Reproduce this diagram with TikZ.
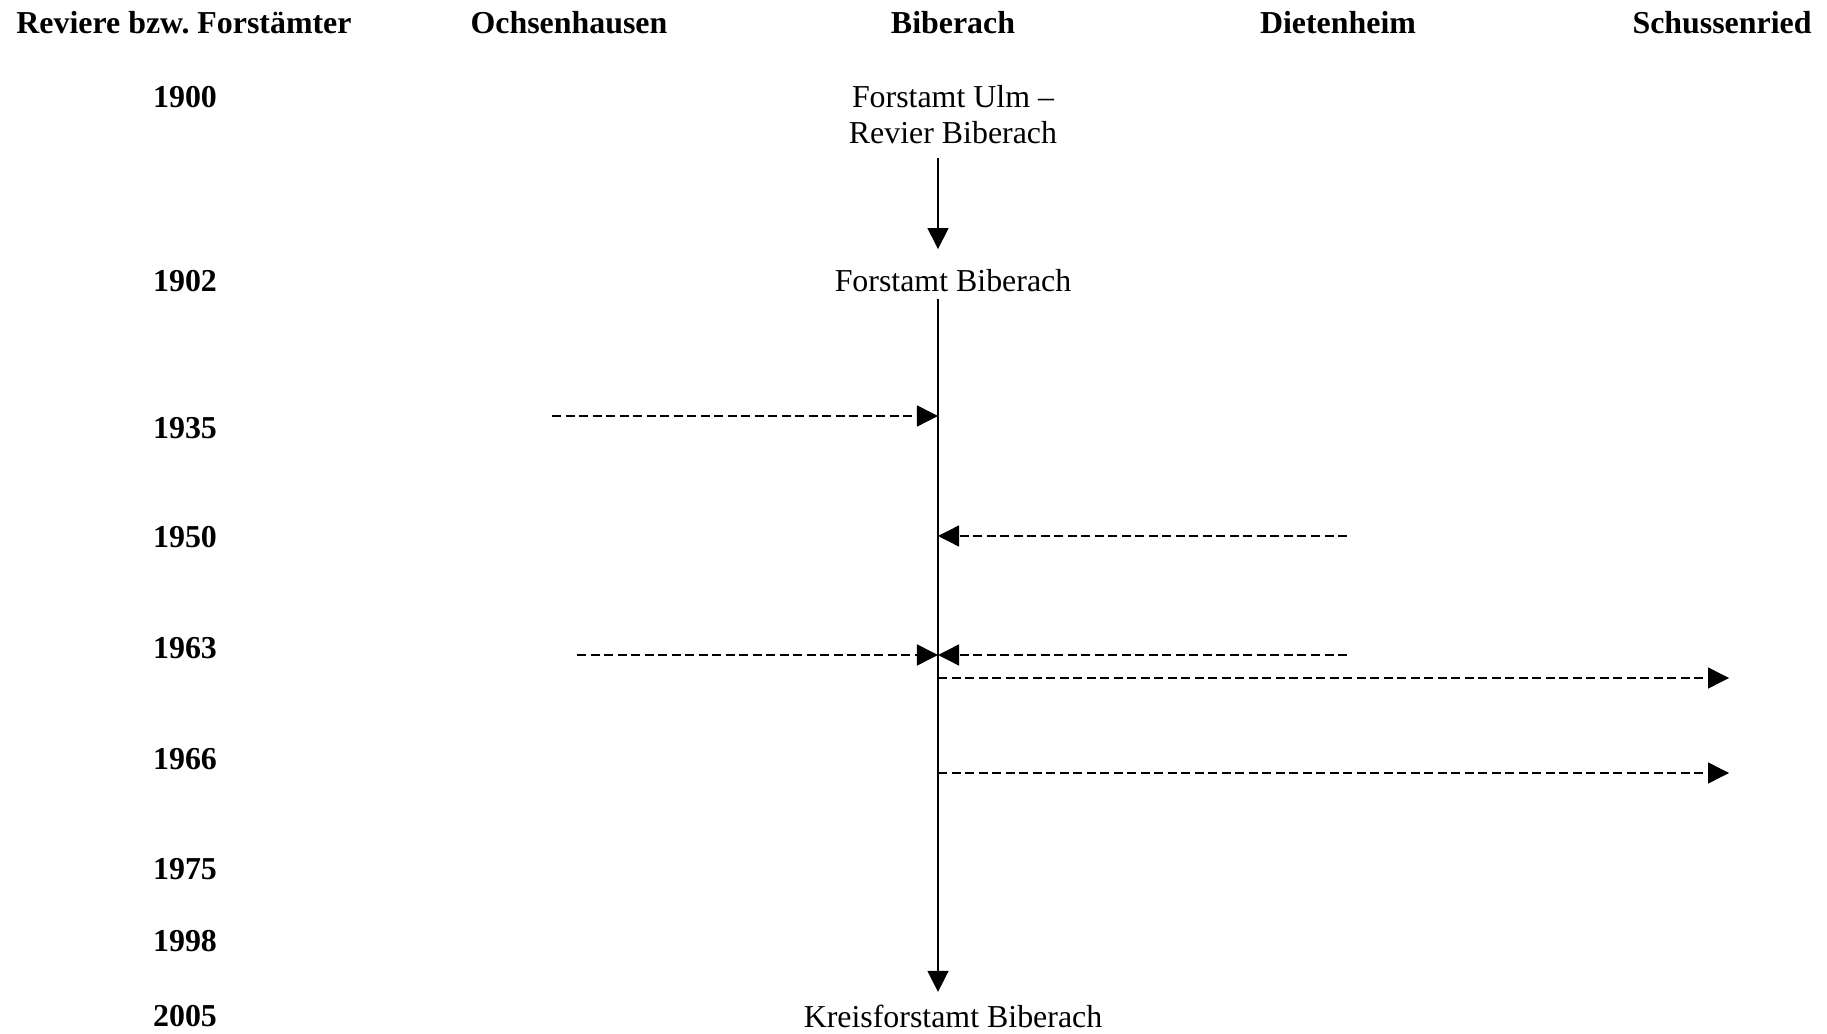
\documentclass[tikz,border=0pt]{standalone}
\usepackage{fontspec}
\setmainfont{Liberation Serif}
\usepackage{tikz}
\usetikzlibrary{arrows.meta,positioning,calc}

\begin{document}
\begin{tikzpicture}[
    x=0.01cm, y=-0.01cm,
    every node/.style={font=\fontsize{9.07}{10.2}\selectfont},
    head/.style={font=\fontsize{9.07}{10.2}\selectfont\bfseries, inner sep=0pt},
    year/.style={font=\fontsize{9.07}{10.2}\selectfont\bfseries, inner sep=0pt},
    amt/.style={align=center, inner sep=0pt},
    arr/.style={-{Triangle[length=0.21cm, width=0.21cm]}, line width=0.4pt},
    darr/.style={-{Triangle[length=0.21cm, width=0.21cm]}, line width=0.4pt, dash pattern=on 0.09cm off 0.045cm},
]
\useasboundingbox (0,0) rectangle (1827,1034);
% column heads
\node[head] (hrev) at (184,23) {Reviere bzw.\ Forstämter};
\node[head] (hochs) at (569,23) {Ochsenhausen};
\node[head] (hbib) at (953,23) {Biberach};
\node[head] (hdiet) at (1338,23) {Dietenheim};
\node[head] (hschu) at (1722,23) {Schussenried};
% years
\node[year] (y1900) at (185,97) {1900};
\node[year] (y1902) at (185,281) {1902};
\node[year] (y1935) at (185,428) {1935};
\node[year] (y1950) at (185,537) {1950};
\node[year] (y1963) at (185,648) {1963};
\node[year] (y1966) at (185,759) {1966};
\node[year] (y1975) at (185,869) {1975};
\node[year] (y1998) at (185,941) {1998};
\node[year] (y2005) at (185,1016) {2005};
% Biberach
\coordinate (bx) at (938,0);
\node[amt] (ulm) at (953,115) {Forstamt Ulm --\\Revier Biberach};
\node[amt] (fb) at (953,281) {Forstamt Biberach};
\node[amt] (kfb) at (953,1016) {Kreisforstamt Biberach};
\draw[arr, shorten <=0.13cm, shorten >=0.2cm] (ulm.south -| bx) -- (fb.north -| bx);
\draw[arr, shorten <=0.06cm, shorten >=0.12cm] (fb.south -| bx) -- (kfb.north -| bx);
% Zu- und Abgaenge
\coordinate (o1935) at (552,416);
\coordinate (b1935) at (938,416);
\coordinate (d1950) at (1347,536);
\coordinate (b1950) at (938,536);
\coordinate (o1963) at (577,655);
\coordinate (d1963) at (1347,655);
\coordinate (b1963) at (938,655);
\coordinate (b1963s) at (938,678);
\coordinate (s1963) at (1729,678);
\coordinate (b1966) at (938,773);
\coordinate (s1966) at (1729,773);
\draw[darr] (o1935) -- (b1935);
\draw[darr] (d1950) -- (b1950);
\draw[darr] (o1963) -- (b1963);
\draw[darr] (d1963) -- (b1963);
\draw[darr] (b1963s) -- (s1963);
\draw[darr] (b1966) -- (s1966);
\end{tikzpicture}
\end{document}
